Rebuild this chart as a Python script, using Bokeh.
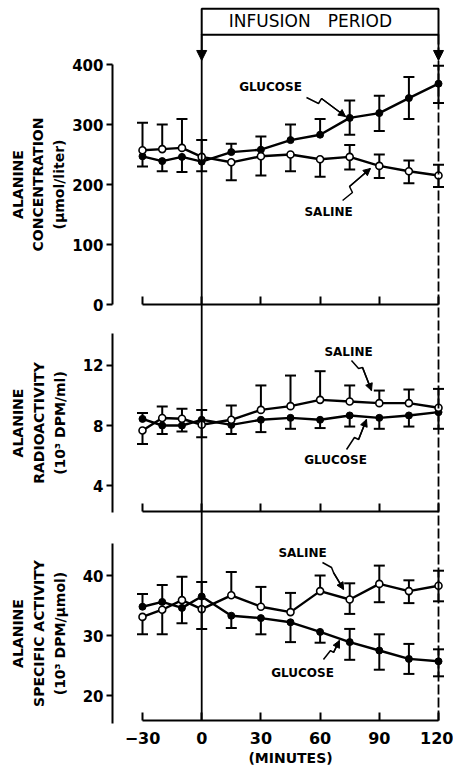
from bokeh.plotting import figure
from bokeh.models import Range1d, LinearAxis, FixedTicker, Arrow, NormalHead, Label
from bokeh.embed import file_html
from bokeh.resources import INLINE

# ---------------- data ----------------
minutes = [-30, -20, -10, 0, 15, 30, 45, 60, 75, 90, 105, 120]
minute_ticks = [-30, 0, 30, 60, 90, 120]
infusion_start = 0
infusion_end = 120

conc_glucose = [247, 239, 246, 238, 254, 258, 274, 283, 311, 319, 344, 368]
conc_glucose_err_up = [0, 0, 0, 0, 14, 22, 26, 26, 29, 29, 35, 30]
conc_glucose_err_dn = [17, 17, 25, 16, 0, 0, 0, 0, 28, 30, 35, 32]
conc_saline = [257, 259, 261, 246, 237, 247, 250, 242, 246, 231, 222, 215]
conc_saline_err_up = [46, 41, 48, 28, 0, 0, 0, 0, 20, 19, 18, 18]
conc_saline_err_dn = [0, 0, 0, 0, 30, 32, 28, 29, 21, 20, 20, 19]
conc_ticks = [0, 100, 200, 300, 400]

radio_glucose = [8.44, 8.0, 8.0, 8.38, 8.04, 8.38, 8.51, 8.38, 8.67, 8.51, 8.67, 8.89]
radio_glucose_err_up = [0.4, 0, 0, 0.66, 0, 0, 0, 0, 0, 0, 0, 0]
radio_glucose_err_dn = [0, 0.56, 0.4, 0, 0.6, 0.82, 0.73, 0.55, 0.74, 0.73, 0.74, 1.11]
radio_saline = [7.67, 8.5, 8.45, 8.05, 8.38, 9.04, 9.29, 9.71, 9.6, 9.49, 9.49, 9.18]
radio_saline_err_up = [0, 0.77, 0.66, 0, 0.95, 1.63, 2.04, 1.91, 1.07, 0.84, 0.91, 1.26]
radio_saline_err_dn = [0.9, 0, 0, 0.83, 0, 0, 0, 0, 0, 0, 0, 0]
radio_ticks = [4, 8, 12]

spec_glucose = [34.8, 35.6, 34.6, 36.5, 33.3, 32.9, 32.2, 30.6, 28.9, 27.5, 26.1, 25.7]
spec_glucose_err_up = [2.1, 2.8, 0, 2.4, 0, 0, 0, 0, 2.2, 2.7, 2.5, 2.0]
spec_glucose_err_dn = [0, 0, 2.55, 0, 2.05, 2.7, 3.3, 1.8, 2.95, 3.2, 2.5, 2.5]
spec_saline = [33.1, 34.3, 35.9, 34.4, 36.7, 34.8, 33.9, 37.4, 36.0, 38.6, 37.4, 38.3]
spec_saline_err_up = [0, 0, 3.9, 0, 3.9, 3.3, 3.2, 2.6, 2.7, 3.05, 1.8, 2.5]
spec_saline_err_dn = [2.9, 4.1, 0, 3.3, 0, 0, 0, 0, 2.4, 3.05, 2.0, 2.6]
spec_ticks = [20, 30, 40]

# ---------------- layout ----------------
FONT = "DejaVu Sans"
p = figure(width=453, height=775,
           x_range=Range1d(-101.96, 127.6), y_range=Range1d(-785.0, 506.67),
           output_backend="svg", toolbar_location=None,
           x_axis_location=None, y_axis_location=None,
           min_border=0, outline_line_color=None)
p.extra_y_ranges = {"radio": Range1d(-15.33, 36.33), "spec": Range1d(6.67, 135.83)}
for g in p.grid:
    g.visible = False

panels = [
    dict(rng="default", glu=(conc_glucose, conc_glucose_err_up, conc_glucose_err_dn),
         sal=(conc_saline, conc_saline_err_up, conc_saline_err_dn), ticks=conc_ticks,
         bounds=(0, 400), axis_y=0, standoff=2,
         label="ALANINE\nCONCENTRATION\n(\u00b5mol/liter)",
         glu_lab=(34.9, 361.7), glu_lead=([53.1, 59.2, 60.7, 72.9], [345, 335, 343.3, 313.3]),
         sal_lab=(64.3, 155), sal_lead=([71.4, 76.4, 74.9, 85.5], [173.3, 186.7, 196.7, 226.7])),
    dict(rng="radio", glu=(radio_glucose, radio_glucose_err_up, radio_glucose_err_dn),
         sal=(radio_saline, radio_saline_err_up, radio_saline_err_dn), ticks=radio_ticks,
         bounds=(2.2, 14.1), axis_y=2.27, standoff=12,
         label="ALANINE\nRADIOACTIVITY\n(10\u00b3 DPM/ml)",
         glu_lab=(67.8, 5.67), glu_lead=([73.4, 77.4, 79.5, 83.5], [6.4, 7.2, 7.07, 8.4]),
         sal_lab=(74.4, 12.93), sal_lead=([75.9, 79.5, 81.5, 86.05], [12.33, 11.8, 11.87, 10.33])),
    dict(rng="spec", glu=(spec_glucose, spec_glucose_err_up, spec_glucose_err_dn),
         sal=(spec_saline, spec_saline_err_up, spec_saline_err_dn), ticks=spec_ticks,
         bounds=(15.3, 45.3), axis_y=15.83, standoff=12,
         label="ALANINE\nSPECIFIC ACTIVITY\n(10\u00b3 DPM/\u00b5mol)",
         glu_lab=(51.1, 23.83), glu_lead=([61.7, 65.3, 66.8, 69.8], [26.0, 27.5, 27.17, 29.17]),
         sal_lab=(51.1, 43.83), sal_lead=([61.2, 65.8, 66.8, 71.9], [42.17, 41.33, 40.5, 37.67])),
]


def error_bars(vals, up, dn, rng):
    xs, lo, hi, cx, cy = [], [], [], [], []
    for t, v, u, d in zip(minutes, vals, up, dn):
        if u > 0:
            xs.append(t); lo.append(v); hi.append(v + u); cx.append(t); cy.append(v + u)
        if d > 0:
            xs.append(t); lo.append(v - d); hi.append(v); cx.append(t); cy.append(v - d)
    p.segment(x0=xs, y0=lo, x1=xs, y1=hi, y_range_name=rng, line_color="black", line_width=2)
    p.scatter(x=cx, y=cy, marker="dash", size=11, line_color="black", line_width=2,
              y_range_name=rng)


for i, pan in enumerate(panels):
    rng = pan["rng"]
    ya = LinearAxis(y_range_name=rng, fixed_location=-45.2, bounds=pan["bounds"],
                    ticker=FixedTicker(ticks=pan["ticks"]),
                    axis_label=pan["label"], axis_label_standoff=pan["standoff"],
                    axis_label_text_font=FONT, axis_label_text_font_style="bold",
                    axis_label_text_font_size="14px", axis_label_text_color="black",
                    axis_label_text_line_height=1.3,
                    major_label_text_font=FONT, major_label_text_font_style="bold",
                    major_label_text_font_size="15px", major_label_text_color="black",
                    major_label_standoff=3,
                    axis_line_width=2, major_tick_line_width=2,
                    major_tick_out=6, major_tick_in=0, minor_tick_out=0, minor_tick_in=0)
    p.add_layout(ya, "left")
    xa = LinearAxis(y_range_name=rng, fixed_location=pan["axis_y"], bounds=(-30, 120),
                    ticker=FixedTicker(ticks=minute_ticks),
                    axis_line_width=2, major_tick_line_width=2,
                    major_tick_in=8, major_tick_out=0, minor_tick_out=0, minor_tick_in=0,
                    major_label_text_font=FONT, major_label_text_font_style="bold",
                    major_label_text_font_size="16px", major_label_text_color="black",
                    major_label_standoff=11)
    if i < 2:
        xa.major_label_text_color = None
    else:
        xa.axis_label = "(MINUTES)"
        xa.axis_label_text_font = FONT
        xa.axis_label_text_font_style = "bold"
        xa.axis_label_text_font_size = "14px"
        xa.axis_label_text_color = "black"
        xa.axis_label_standoff = 3
    p.add_layout(xa, "below")

    g_vals, g_up, g_dn = pan["glu"]
    s_vals, s_up, s_dn = pan["sal"]
    error_bars(g_vals, g_up, g_dn, rng)
    error_bars(s_vals, s_up, s_dn, rng)
    p.line(minutes, g_vals, y_range_name=rng, line_color="black", line_width=2.4)
    p.line(minutes, s_vals, y_range_name=rng, line_color="black", line_width=2.4)
    p.scatter(minutes, g_vals, y_range_name=rng, size=7, fill_color="black", line_color="black")
    p.scatter(minutes, s_vals, y_range_name=rng, size=7, fill_color="white",
              line_color="black", line_width=1.6)

    for name, lab, lead in (("GLUCOSE", pan["glu_lab"], pan["glu_lead"]),
                            ("SALINE", pan["sal_lab"], pan["sal_lead"])):
        p.add_layout(Label(x=lab[0], y=lab[1], y_range_name=rng, text=name,
                           text_align="center", text_baseline="middle",
                           text_font=FONT, text_font_style="bold", text_font_size="12px",
                           text_color="black"))
        lx, ly = lead
        p.line(lx, ly, y_range_name=rng, line_color="black", line_width=1.5)
        p.add_layout(Arrow(end=NormalHead(size=7, fill_color="black", line_color="black"),
                           x_start=lx[-2], y_start=ly[-2], x_end=lx[-1], y_end=ly[-1],
                           y_range_name=rng, line_color="black", line_width=1.5))

# infusion period box, arrows and reference lines
p.quad(left=[infusion_start], right=[infusion_end], bottom=[449.5], top=[492.8],
       fill_color=None, line_color="black", line_width=2)
p.add_layout(Label(x=55.1, y=473.3, text="INFUSION\u2003PERIOD", text_align="center",
                   text_baseline="middle", text_font=FONT, text_font_size="17px",
                   text_color="black"))
for t in (infusion_start, infusion_end):
    p.add_layout(Arrow(end=NormalHead(size=10, fill_color="black", line_color="black"),
                       x_start=t, y_start=449.5, x_end=t, y_end=406.7,
                       line_color="black", line_width=1.8))
p.segment(x0=[infusion_start], x1=[infusion_start], y0=[15.83], y1=[130.2],
          y_range_name="spec", line_color="black", line_width=1.8)
p.segment(x0=[infusion_end], x1=[infusion_end], y0=[15.83], y1=[130.2],
          y_range_name="spec", line_color="black", line_width=1.8, line_dash="10 3")

open("out.html", "w").write(file_html(p, INLINE))
